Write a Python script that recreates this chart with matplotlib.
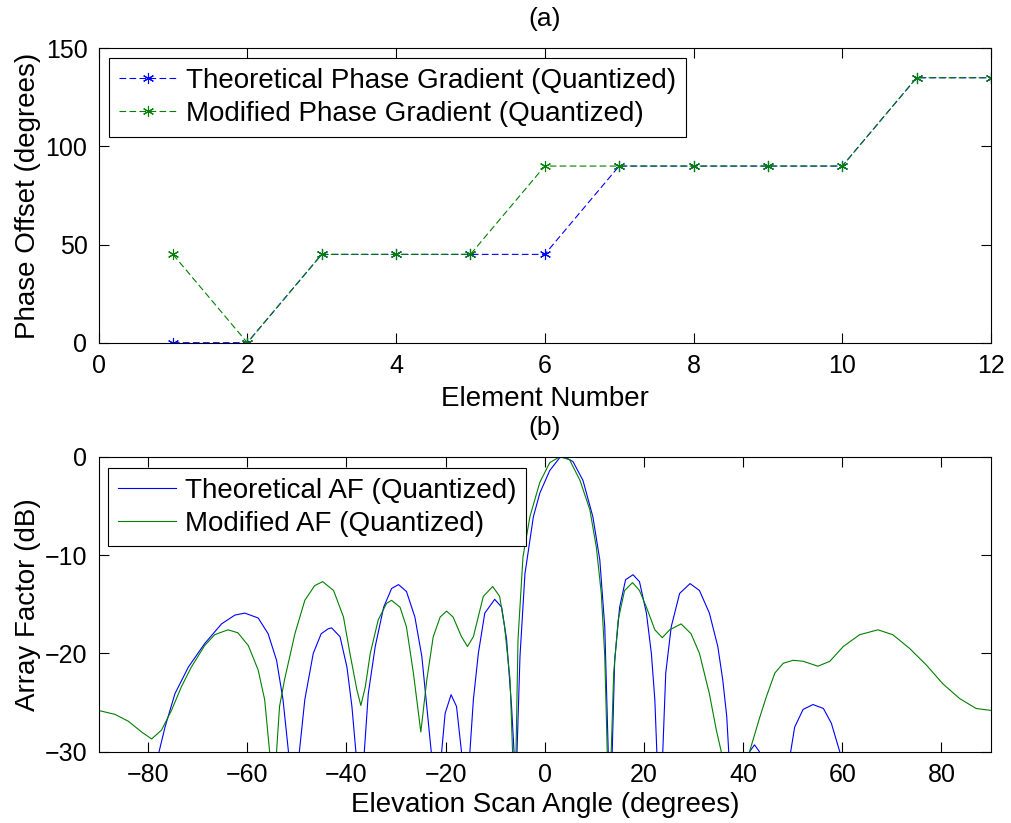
import matplotlib
matplotlib.use("Agg")
import matplotlib.pyplot as plt
import numpy as np

plt.rcParams['font.family'] = ['Liberation Sans', 'DejaVu Sans']

#%% data
element = [1, 2, 3, 4, 5, 6, 7, 8, 9, 10, 11, 12]
phase_theo = [0, 0, 45, 45, 45, 45, 90, 90, 90, 90, 135, 135]
phase_mod = [45, 0, 45, 45, 45, 90, 90, 90, 90, 90, 135, 135]

# theoretical AF (values under -30 dB are only there so the nulls leave the axes)
theo_ang = [-80.0, -77.8, -76.6, -74.6, -71.9, -68.6, -65.2, -62.5, -60.5, -57.8,
            -55.8, -54.1, -52.8, -51.7, -50.6, -49.5, -48.4, -46.7, -45.1, -43.7,
            -43.0, -41.3, -39.9, -38.9, -38.1, -37.2, -36.4, -35.6, -34.2, -32.5,
            -30.9, -29.5, -27.9, -26.2, -24.8, -23.8, -22.9, -21.9, -20.8, -20.1,
            -18.9, -17.8, -16.8, -15.9, -15.1, -14.4, -13.4, -12.1, -10.1, -8.7,
            -7.7, -6.7, -6.2, -5.9, -5.6, -5.0, -4.0, -2.3, -1.0, 1.0,
            3.0, 4.0, 5.7, 7.7, 9.7, 11.1, 12.1, 12.8, 13.2, 13.6,
            14.1, 15.1, 16.3, 17.8, 19.1, 20.5, 21.5, 22.2, 22.6, 23.2,
            23.8, 24.4, 25.5, 27.2, 29.3, 31.2, 33.2, 34.9, 35.9, 36.7,
            37.1, 39.2, 41.3, 42.3, 43.3, 46.5, 49.6, 50.4, 52.1, 54.1,
            56.2, 57.8, 59.5, 62.0]
theo_db = [-40, -30, -27.5, -24.1, -21.4, -19.0, -17.0, -16.1, -15.9, -16.4,
           -18.0, -20.7, -24.7, -30, -40, -30, -24.7, -20.0, -18.0, -17.5,
           -17.4, -18.3, -21.4, -25.4, -30, -40, -30, -24.1, -19.3, -15.3,
           -13.4, -13.0, -13.7, -16.3, -20.3, -25.4, -30, -40, -30, -26.1,
           -24.2, -25.4, -30, -40, -30, -24.7, -20.0, -15.9, -14.5, -15.3,
           -18.6, -25.4, -30, -40, -30, -20.3, -11.9, -6.1, -3.7, -1.4,
           -0.1, 0.0, -0.5, -2.4, -6.1, -10.5, -17.3, -30, -40, -30,
           -20.7, -15.3, -12.5, -12.0, -12.7, -15.9, -20.0, -24.7, -30, -40,
           -30, -22.0, -17.3, -13.9, -12.9, -13.6, -15.9, -19.3, -22.7, -26.4,
           -30, -40, -30, -29.3, -30, -40, -30, -27.5, -25.7, -25.2,
           -25.6, -27.1, -30, -40]

# modified AF
mod_ang = [-90.0, -86.7, -84.0, -81.3, -79.3, -77.3, -75.3, -73.3, -71.3, -68.6,
           -66.6, -63.9, -61.9, -59.8, -57.8, -56.5, -55.5, -54.8, -54.1, -53.5,
           -52.5, -50.4, -48.4, -46.4, -44.8, -42.6, -40.6, -39.3, -37.9, -37.1,
           -36.2, -35.2, -33.6, -31.9, -30.9, -29.2, -27.9, -26.5, -25.0, -23.8,
           -22.5, -21.1, -19.8, -18.5, -16.8, -15.6, -14.4, -12.4, -10.5, -9.1,
           -8.1, -7.0, -6.5, -6.15, -5.8, -5.4, -4.4, -3.0, -1.0, 1.0,
           3.0, 5.0, 7.1, 9.1, 10.4, 11.4, 12.1, 12.6, 13.0, 13.4,
           13.9, 14.8, 16.1, 17.7, 19.1, 20.5, 22.2, 23.7, 25.2, 27.5,
           29.5, 31.2, 33.2, 34.6, 35.6, 38.5, 41.3, 43.3, 44.7, 46.4,
           48.1, 50.1, 52.1, 55.1, 57.5, 60.2, 63.5, 67.2, 70.2, 73.6,
           77.0, 80.3, 83.7, 87.0, 90.0]
mod_db = [-25.8, -26.2, -26.9, -28.0, -28.7, -27.8, -25.8, -23.4, -21.4, -19.2,
          -18.1, -17.6, -17.9, -19.2, -21.7, -24.7, -30, -40, -30, -25.4,
          -22.7, -18.0, -14.6, -13.1, -12.7, -13.6, -16.3, -20.0, -23.7, -25.3,
          -23.4, -20.0, -16.6, -14.9, -14.6, -15.3, -17.3, -22.0, -28.0, -22.7,
          -18.3, -16.3, -15.7, -16.3, -18.3, -19.3, -18.3, -14.2, -13.2, -14.2,
          -17.3, -22.7, -30, -40, -30, -18.6, -10.2, -6.1, -2.6, -0.6,
          0.0, -0.3, -2.4, -5.4, -9.2, -13.9, -20.3, -30, -40, -30,
          -22.0, -16.6, -13.6, -12.8, -13.6, -15.3, -17.6, -18.4, -17.6, -17.0,
          -18.0, -20.0, -24.1, -27.8, -30, -40, -30, -26.6, -24.4, -22.0,
          -21.0, -20.7, -20.8, -21.3, -20.8, -19.3, -18.1, -17.6, -18.1, -19.5,
          -21.2, -23.1, -24.6, -25.6, -25.8]

assert len(theo_ang) == len(theo_db)
assert len(mod_ang) == len(mod_db)

blue = '#0000ff'
green = '#008000'
fs_tick = 18
fs = 20
ast = (6, 2, 0)   # matlab style asterisk

def style_axes(ax):
    ax.tick_params(direction='in', top=True, right=True, length=7,
                   width=0.8, labelsize=fs_tick, pad=8)
    for s in ax.spines.values():
        s.set_linewidth(0.8)

def add_legend(ax, anchor):
    leg = ax.legend(loc='upper left', bbox_to_anchor=anchor, fontsize=fs,
                    fancybox=False, edgecolor='black', framealpha=1,
                    borderaxespad=0, handlelength=2.1, borderpad=0.35,
                    labelspacing=0.25, handletextpad=0.3)
    leg.get_frame().set_linewidth(0.8)
    return leg

fig = plt.figure(figsize=(10.11, 8.23), dpi=100)

#%% (a) phase gradient
ax1 = fig.add_axes([0.0975, 0.5836, 0.8827, 0.3577])
ax1.plot(element, phase_theo, color=blue, ls=(0, (6, 3)), lw=0.8,
         marker=ast, ms=8, mew=0.8, label='Theoretical Phase Gradient (Quantized)')
ax1.plot(element, phase_mod, color=green, ls=(0, (6, 3)), lw=0.8,
         marker=ast, ms=8, mew=0.8, label='Modified Phase Gradient (Quantized)')
ax1.set_xlim(0, 12)
ax1.set_ylim(0, 150)
ax1.set_xticks(np.arange(0, 13, 2))
ax1.set_yticks([0, 50, 100, 150])
ax1.set_xlabel('Element Number', fontsize=fs, labelpad=6)
ax1.set_ylabel('Phase Offset (degrees)', fontsize=fs, labelpad=3)
ax1.set_title('(a)', fontsize=19, pad=16)
style_axes(ax1)
add_legend(ax1, (0.012, 0.966))

#%% (b) array factor
ax2 = fig.add_axes([0.0975, 0.0866, 0.8827, 0.3584])
ax2.plot(theo_ang, theo_db, color=blue, lw=0.8, label='Theoretical AF (Quantized)')
ax2.plot(mod_ang, mod_db, color=green, lw=0.8, label='Modified AF (Quantized)')
ax2.set_xlim(-90, 90)
ax2.set_ylim(-30, 0)
ax2.set_xticks(np.arange(-80, 81, 20))
ax2.set_yticks([-30, -20, -10, 0])
ax2.set_xlabel('Elevation Scan Angle (degrees)', fontsize=fs, labelpad=4)
ax2.set_ylabel('Array Factor (dB)', fontsize=fs, labelpad=3)
ax2.set_title('(b)', fontsize=19, pad=16)
style_axes(ax2)
add_legend(ax2, (0.011, 0.962))

fig.savefig('out.png', dpi=100)
